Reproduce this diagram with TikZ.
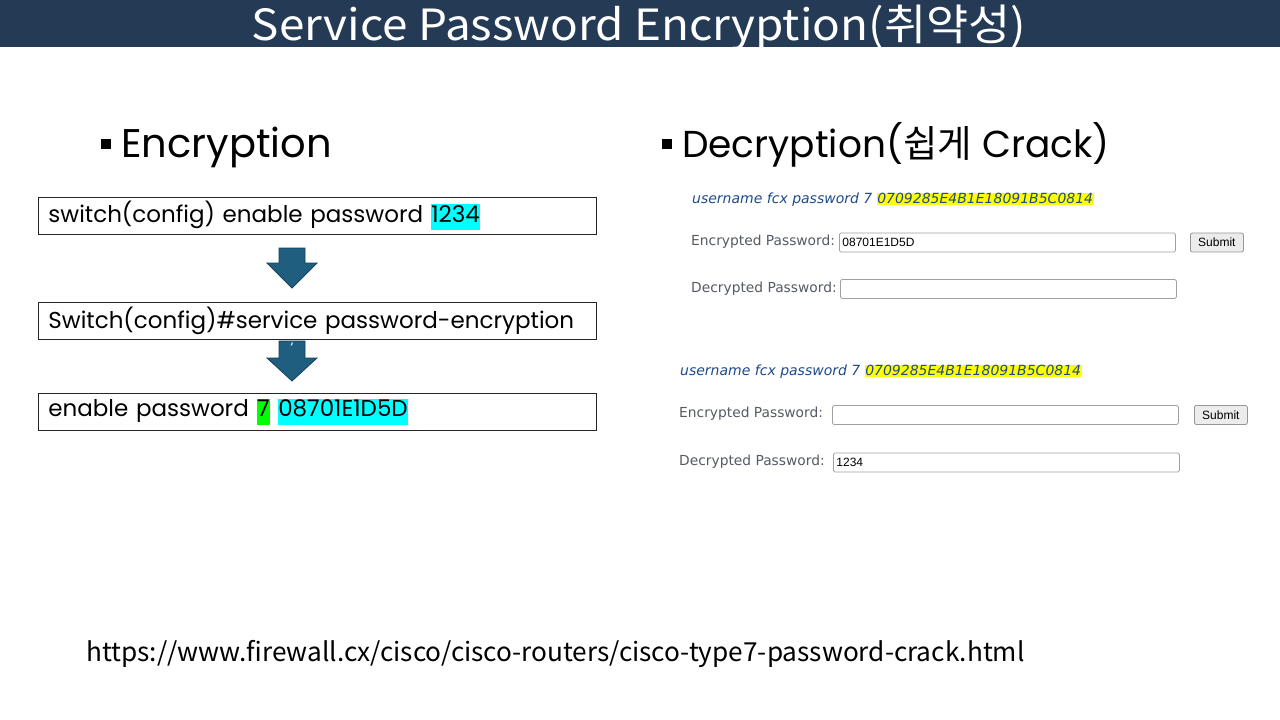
\documentclass[tikz,border=0pt]{standalone}
\usepackage{fontspec}
\setmainfont{Poppins}
\newfontfamily\cjk{Noto Sans CJK KR}
\newfontfamily\dv{DejaVu Sans}
\newfontfamily\lib{Liberation Sans}
\definecolor{navy}{RGB}{36,58,85}
\definecolor{arrowfill}{RGB}{31,94,127}
\definecolor{arrowline}{RGB}{22,66,92}
\definecolor{hlcyan}{RGB}{0,255,255}
\definecolor{hlgreen}{RGB}{0,255,0}
\definecolor{hlyellow}{RGB}{255,255,0}
\definecolor{webblue}{RGB}{30,74,140}
\definecolor{webgray}{RGB}{85,90,100}
\definecolor{inborder}{RGB}{160,160,160}
\definecolor{btnfill}{RGB}{236,236,236}
\definecolor{btnline}{RGB}{150,150,150}
\newcommand\myHL[2]{{\setlength\fboxsep{0.5pt}\colorbox{#1}{\strut #2}}}
\tikzset{
  cmdbox/.style={draw=black!85, line width=0.8pt, minimum width=558pt, minimum height=37pt,
    text width=538pt, inner xsep=10pt, inner ysep=0pt, align=left, anchor=west,
    font=\fontsize{23}{25}\selectfont},
  bigarrow/.style={fill=arrowfill, draw=arrowline, line width=0.8pt},
  heading/.style={anchor=base west, inner sep=0pt},
  weblabel/.style={anchor=west, inner sep=0pt, text=webgray, font=\dv\fontsize{13.8}{16}\selectfont},
  webcmd/.style={anchor=west, inner sep=0pt, text=webblue, font=\dv\itshape\fontsize{14}{16}\selectfont},
  inbox/.style={draw=inborder, line width=0.8pt, rounded corners=1.5pt, anchor=west, inner xsep=3pt,
    text width=#1, minimum height=19pt, inner ysep=0pt, align=left, font=\lib\fontsize{12}{14}\selectfont},
  btn/.style={draw=btnline, fill=btnfill, line width=0.8pt, rounded corners=2pt, anchor=west,
    minimum width=53pt, minimum height=19pt, inner sep=0pt, font=\lib\fontsize{12}{14}\selectfont}
}
\newcommand\myDownArrow[5]{% name, x, ytop, ybase, ytip
  \coordinate (#1) at (#2,#5);
  \draw[bigarrow] (#2-13,#3) -- (#2+13,#3) -- (#2+13,#4) -- (#2+25,#4) -- (#1) -- (#2-25,#4) -- (#2-13,#4) -- cycle;}
\begin{document}
\begin{tikzpicture}[x=1pt,y=-1pt]
\useasboundingbox (0,0) rectangle (1280,720);
\fill[white] (0,0) rectangle (1280,720);
% header
\fill[navy] (0,0) rectangle (1280,47);
\node[text=white, font=\cjk\fontsize{43}{47}\selectfont, inner sep=0pt, anchor=base] (title) at (639,40) {\scalebox{1.066}[1]{Service Password Encryption(취약성)}};
% headings
\fill (101,139) rectangle (111,149);
\node[heading, font=\fontsize{40}{44}\selectfont] (enc) at (121,157) {Encryption};
\fill (662,139) rectangle (672,149);
\node[heading, font=\fontsize{37.5}{42}\selectfont] (dec) at (682,157) {Decryption({\cjk 쉽게} Crack)};
% left boxes
\node[cmdbox] (b1) at (38,215.5) {switch(config) enable password \myHL{hlcyan}{1234}};
\node[cmdbox] (b2) at (38,320.5) {Switch(config)\#service password-encryption};
\node[cmdbox] (b3) at (38,411.5) {enable password \myHL{hlgreen}{7} \myHL{hlcyan}{08701E1D5D}};
\myDownArrow{a1}{292}{248}{263}{288}
\myDownArrow{a2}{292}{341}{358}{381}
\node[text=white, font=\fontsize{14}{14}\selectfont, inner sep=0pt] (tick) at (292,348) {`};
% web screenshot 1
\node[webcmd] (w1cmd) at (692,200) {username fcx password 7 {\setlength\fboxsep{0.5pt}\colorbox{hlyellow}{0709285E4B1E18091B5C0814}}};
\node[weblabel] (w1enc) at (691,242) {Encrypted Password:};
\node[inbox=330pt] (w1in) at (839,242.5) {08701E1D5D};
\node[btn] (w1btn) at (1190,242.5) {Submit};
\node[weblabel] (w1dec) at (691,289) {Decrypted Password:};
\node[inbox=330pt] (w1out) at (840,289) {};
% web screenshot 2
\node[webcmd] (w2cmd) at (680,372) {username fcx password 7 {\setlength\fboxsep{0.5pt}\colorbox{hlyellow}{0709285E4B1E18091B5C0814}}};
\node[weblabel] (w2enc) at (679,414) {Encrypted Password:};
\node[inbox=340pt] (w2in) at (832,415) {};
\node[btn] (w2btn) at (1194,415) {Submit};
\node[weblabel] (w2dec) at (679,462) {Decrypted Password:};
\node[inbox=340pt] (w2out) at (833,462.5) {1234};
% url
\node[anchor=base west, inner sep=0pt, font=\cjk\fontsize{26.2}{30}\selectfont] (url) at (86,661) {https://www.firewall.cx/cisco/cisco-routers/cisco-type7-password-crack.html};
\end{tikzpicture}
\end{document}
